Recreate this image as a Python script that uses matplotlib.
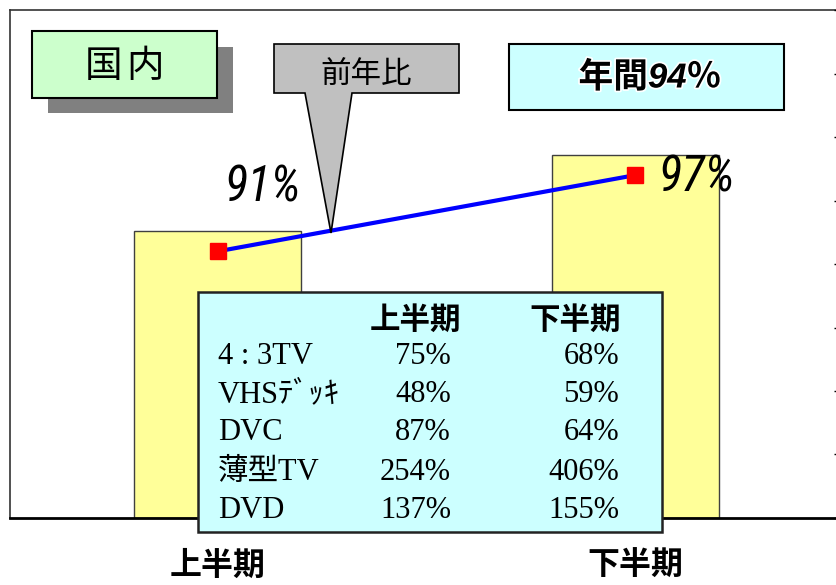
import matplotlib
matplotlib.use("Agg")
import matplotlib.pyplot as plt
from matplotlib.patches import Rectangle, Polygon
from matplotlib import font_manager as fm
import matplotlib.patheffects as pe

# ---- data ----
categories = ["上半期", "下半期"]
bar_values = [56.5, 71.5]          # relative volume (axis 0-100)
yoy_values = [91, 97]              # 前年比 (%)
yoy_labels = ["91%", "97%"]
annual_label = "年間94％"
table_header = ["上半期", "下半期"]
table_items = ["4 : 3TV", "VHSﾃﾞｯｷ", "DVC", "薄型TV", "DVD"]
table_h1 = ["75%", "48%", "87%", "254%", "137%"]
table_h2 = ["68%", "59%", "64%", "406%", "155%"]

W, H = 836, 585
fig = plt.figure(figsize=(W / 100, H / 100), dpi=100)
fig.patch.set_facecolor("white")

def fx(x):
    return x / W

def fy(y):
    return 1 - y / H

CJK = "Noto Sans CJK JP"

# look for a condensed italic sans font for the big percentage labels
def find_narrow():
    prefs = ["Liberation Sans Narrow", "Arial Narrow", "Roboto Condensed",
             "Open Sans Condensed", "Noto Sans", "DejaVu Sans", "Roboto", "Open Sans"]
    cands = []
    for f in fm.fontManager.ttflist:
        narrow = ("Narrow" in f.name or "Condensed" in f.name or
                  str(f.stretch) in ("condensed", "semi-condensed", "extra-condensed"))
        if not narrow:
            continue
        if f.style not in ("italic", "oblique"):
            continue
        try:
            w = int(f.weight)
        except (TypeError, ValueError):
            w = 400 if f.weight == "normal" else 700
        if w > 500:
            continue
        rank = prefs.index(f.name) if f.name in prefs else len(prefs)
        cands.append((rank, abs(w - 400), f.fname))
    if cands:
        cands.sort()
        return fm.FontProperties(fname=cands[0][2])
    return None

narrow_fp = find_narrow()
if narrow_fp is not None:
    narrow_fp.set_size(35)
    pct_kw = dict(fontproperties=narrow_fp)
else:
    pct_kw = dict(fontsize=28, fontstyle="italic", family=["Liberation Sans", "DejaVu Sans"])

# ---- axes ----
ax = fig.add_axes([fx(10), fy(518), (838 - 10) / W, (518 - 10) / H])
x = list(range(len(categories)))
ax.bar(x, bar_values, width=0.4, color="#FFFF99", edgecolor="#404040", linewidth=1, zorder=2)
ax.set_xlim(-0.498, 1.485)
ax.set_ylim(0, 100)
ax.set_yticks([])
ax.set_xticks(x)
ax.set_xticklabels(categories, fontfamily=CJK, fontweight="bold", fontsize=23)
ax.tick_params(axis="x", length=0, pad=23)
for s in ["top", "left"]:
    ax.spines[s].set_color("#333333")
    ax.spines[s].set_linewidth(1.2)
ax.spines["bottom"].set_linewidth(2)
ax.spines["bottom"].set_color("black")
ax.spines["right"].set_visible(False)

ax2 = ax.twinx()
ax2.set_ylim(70, 110)
ax2.set_yticks(range(70, 111, 5))
ax2.tick_params(axis="y", direction="in", length=3, labelright=False, width=1)
for s in ["top", "left", "bottom"]:
    ax2.spines[s].set_visible(False)
ax2.spines["right"].set_linewidth(1)
ax2.plot(x, yoy_values, color="#0000FF", linewidth=3, marker="s", markersize=12,
         markerfacecolor="#FF0000", markeredgecolor="#FF0000", zorder=5)
offsets = [(32, 46), (44, -2)]
for xi, yv, lab, off in zip(x, yoy_values, yoy_labels, offsets):
    ax2.annotate(lab, (xi, yv), xytext=off, textcoords="offset points",
                 ha="center", va="center", **pct_kw)

# ---- decorations (figure pixel coordinates) ----
def rect(x0, y0, x1, y1, **kw):
    r = Rectangle((fx(x0), fy(y1)), (x1 - x0) / W, (y1 - y0) / H,
                  transform=fig.transFigure, **kw)
    fig.add_artist(r)
    return r

# 国内 box with shadow
rect(48, 47, 233, 113, facecolor="#808080", edgecolor="none", zorder=6)
rect(32, 31, 217, 98, facecolor="#CCFFCC", edgecolor="black", linewidth=1.5, zorder=7)
fig.text(fx(122), fy(66), "国", ha="right", va="center", fontsize=27,
         family=CJK, zorder=8)
fig.text(fx(126), fy(66), "内", ha="left", va="center", fontsize=27,
         family=CJK, zorder=8)

# 前年比 callout
pts = [(274, 44), (459, 44), (459, 93), (352, 93), (331, 233), (305, 93), (274, 93)]
fig.add_artist(Polygon([(fx(a), fy(b)) for a, b in pts], closed=True,
                       transform=fig.transFigure, facecolor="#C0C0C0",
                       edgecolor="black", linewidth=1.2, zorder=6))
fig.text(fx(366), fy(75), "前年比", ha="center", va="center", fontsize=22,
         family=CJK, zorder=8)

# 年間 box
rect(509, 44, 784, 110, facecolor="#CCFFFF", edgecolor="black", linewidth=1.5, zorder=6)
fig.text(fx(650), fy(78), annual_label, ha="center", va="center", fontsize=25,
         fontweight="bold", fontstyle="italic",
         family=["Liberation Sans", CJK], zorder=8,
         path_effects=[pe.withStroke(linewidth=2.5, foreground="white")])

# table box
rect(198, 292, 662, 532, facecolor="#CCFFFF", edgecolor="#222222", linewidth=1.8, zorder=6)
serif = ["Liberation Serif", CJK]
fig.text(fx(415), fy(320), table_header[0], ha="center", va="center", fontsize=22,
         family=CJK, fontweight="bold", zorder=8)
fig.text(fx(575), fy(320), table_header[1], ha="center", va="center", fontsize=22,
         family=CJK, fontweight="bold", zorder=8)
row_y = [357, 395, 433, 473, 510]
for item, v1, v2, yy in zip(table_items, table_h1, table_h2, row_y):
    fig.text(fx(218), fy(yy), item, ha="left", va="center", fontsize=22, family=serif, zorder=8)
    fig.text(fx(451), fy(yy), v1, ha="right", va="center", fontsize=22, family=serif, zorder=8)
    fig.text(fx(619), fy(yy), v2, ha="right", va="center", fontsize=22, family=serif, zorder=8)

fig.savefig("out.png", dpi=100)
